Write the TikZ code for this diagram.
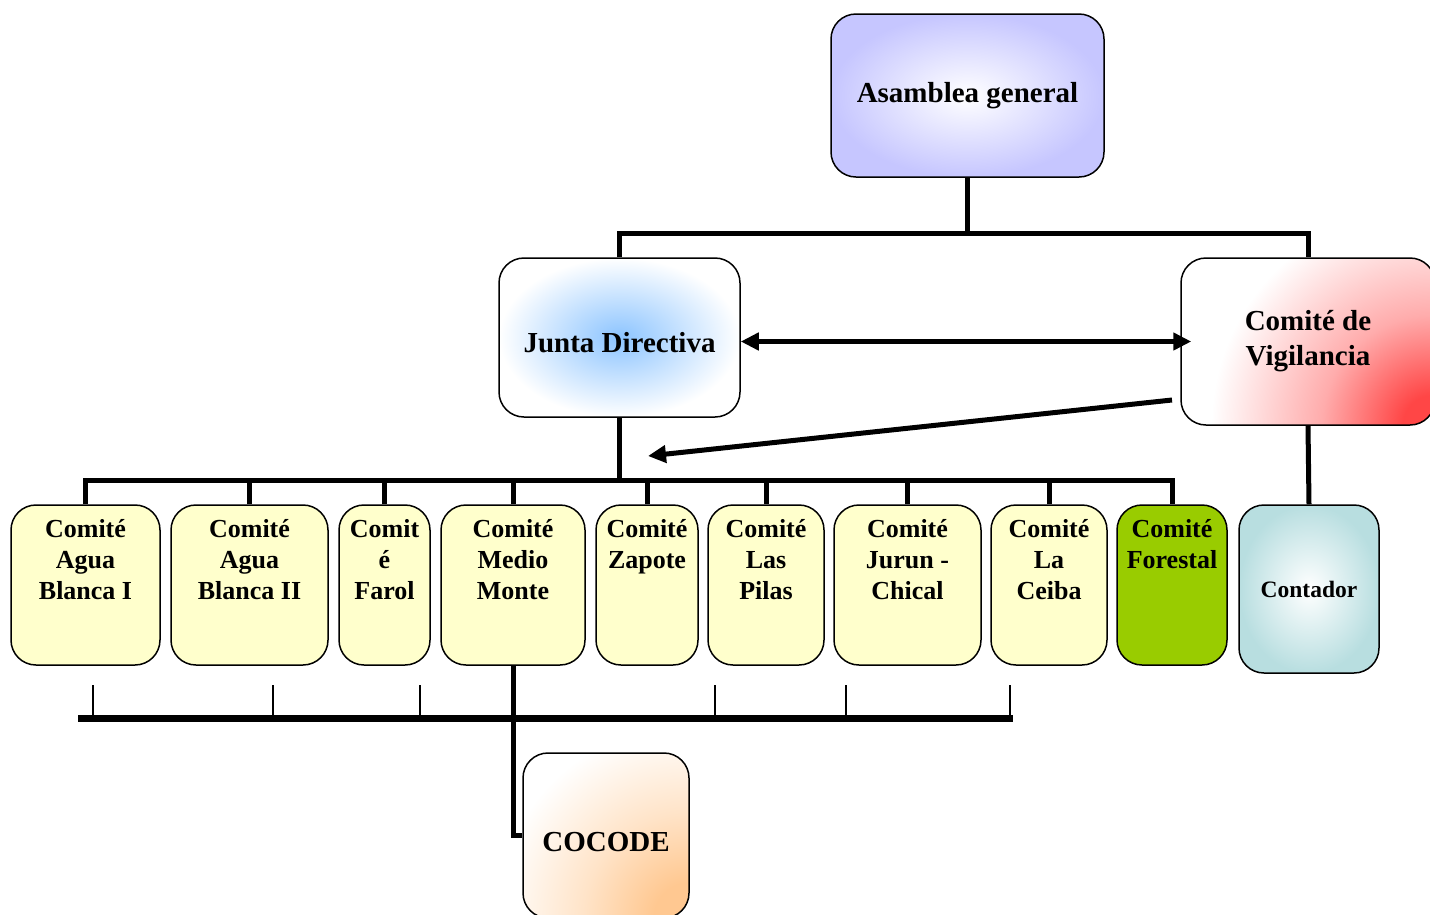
\documentclass[tikz,border=0pt]{standalone}
\usepackage{fontspec}
\setmainfont{Liberation Serif}
\usetikzlibrary{arrows.meta}

\definecolor{lavanda}{RGB}{198,198,255}
\definecolor{celeste}{RGB}{140,196,255}
\definecolor{amarillo}{RGB}{255,255,204}
\definecolor{verde}{RGB}{153,204,0}
\definecolor{rojo}{RGB}{255,70,70}
\definecolor{durazno}{RGB}{255,200,145}
\definecolor{agua}{RGB}{184,222,224}

\pgfdeclareradialshading{rojizo}{\pgfpointorigin}{color(0bp)=(rojo); color(3bp)=(rojo);
  color(11bp)=(rojo!45!white); color(22bp)=(white); color(50bp)=(white)}
\pgfdeclareradialshading{duraznado}{\pgfpointorigin}{color(0bp)=(durazno); color(4bp)=(durazno);
  color(12bp)=(durazno!50!white); color(22bp)=(white); color(50bp)=(white)}

\tikzset{
  caja/.style={draw, line width=1.5pt, rounded corners=25pt, align=center,
    font=\bfseries\fontsize{29}{35}\selectfont},
  enlace/.style={line width=5pt},
  flecha/.style={line width=5pt, -{Triangle[length=18pt,width=17pt]}},
  tick/.style={line width=1.5pt},
}

\begin{document}
\begin{tikzpicture}[x=1pt,y=-1pt]
\useasboundingbox (0,0) rectangle (1430,914);

% niveles superiores
\node[caja, minimum width=273pt, minimum height=163pt,
  inner color=white, outer color=lavanda] (asam) at (967.5,95.5) {Asamblea general};
\node[caja, minimum width=241pt, minimum height=159pt,
  inner color=celeste, outer color=white] (junta) at (619.5,337.5)
  {\raisebox{-5pt}[\height][\depth]{Junta Directiva}};
\node[caja, minimum width=254pt, minimum height=167pt, fill=white,
  path picture={\shade[shading=rojizo]
    (path picture bounding box.south east) circle (250pt);}] (vig) at (1308,341.5) {Comité de\\Vigilancia};
\node[caja, minimum width=140pt, minimum height=168pt,
  inner color=white, outer color=agua, font=\bfseries\fontsize{23.5}{28}\selectfont] (cont) at (1309,589) {Contador};
\node[caja, minimum width=166pt, minimum height=165pt, fill=white,
  path picture={\shade[shading=duraznado]
    (path picture bounding box.south east) circle (220pt);}] (cocode) at (606,835.5)
  {\raisebox{-7pt}[\height][\depth]{COCODE}};

% comites
\foreach \n/\izq/\der/\col/\txt in {
  c1/11/160/amarillo/{Comité\\Agua\\Blanca I},
  c2/171/328/amarillo/{Comité\\Agua\\Blanca II},
  c3/339/430/amarillo/{Comit\\é\\Farol},
  c4/441/585/amarillo/{Comité\\Medio\\Monte},
  c5/596/698/amarillo/{Comité\\Zapote},
  c6/708/824/amarillo/{Comité\\Las\\Pilas},
  c7/834/981/amarillo/{Comité\\Jurun -\\Chical},
  c8/991/1107/amarillo/{Comité\\La\\Ceiba},
  c9/1117/1227/verde/{Comité\\Forestal}}
{
  \pgfmathsetmacro{\ancho}{\der-\izq}
  \pgfmathsetmacro{\medio}{(\izq+\der)/2}
  \node[caja, fill=\col, minimum width=\ancho pt, minimum height=160pt, inner sep=0pt,
    font=\bfseries\fontsize{26}{31}\selectfont] (\n) at (\medio,585)
    {\parbox[c][132pt][t]{\ancho pt}{\centering \txt}};
}

% conectores
\draw[enlace] (asam.south) -- ++(0,56) coordinate (hub);
\draw[enlace] (junta.north) |- (hub) -| (vig.north);
\draw[enlace] (junta.south) -- ++(0,63) coordinate (jhub);
\draw[enlace] (c1.north) |- (jhub) -| (c9.north);
\foreach \n in {c2,c3,c4,c5,c6,c7,c8}
  \draw[enlace] (\n.north) -- (\n.north |- jhub);
\draw[enlace] (vig.south) -- (cont.north);
\draw[flecha, {Triangle[length=18pt,width=17pt]}-{Triangle[length=18pt,width=17pt]}]
  (junta.east |- vig.west) -- ([xshift=11pt]vig.west);
\coordinate (desde) at (1172,400);
\coordinate (hasta) at (648,456);
\draw[flecha] (desde) -- (hasta);

% barra inferior
\draw[line width=7pt] (78,718) coordinate (barra0) -- (1013,718) coordinate (barra1);
\foreach \x in {93,273,420,715,846,1010}
  \draw[tick] (\x,685) -- (\x,718);
\draw[enlace] (c4.south) |- (cocode.west);
\end{tikzpicture}
\end{document}
